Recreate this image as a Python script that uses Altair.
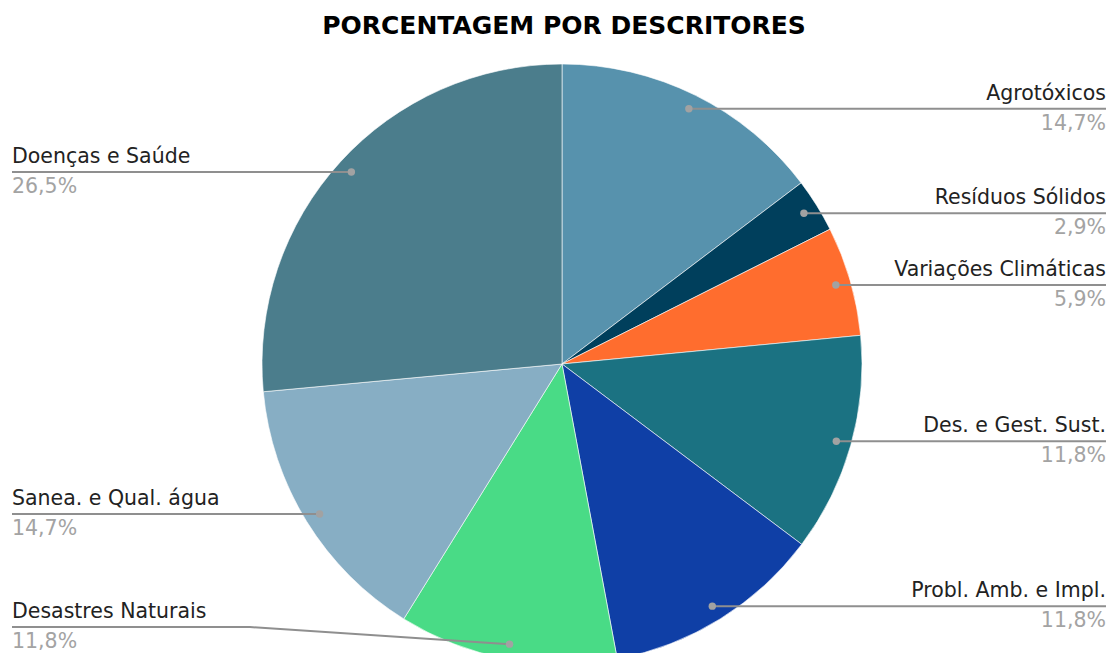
import math
import altair as alt
import pandas as pd

# ---- data ----
categories = [
    "Agrotóxicos",
    "Resíduos Sólidos",
    "Variações Climáticas",
    "Des. e Gest. Sust.",
    "Probl. Amb. e Impl.",
    "Desastres Naturais",
    "Sanea. e Qual. água",
    "Doenças e Saúde",
]
percentages = [14.7, 2.9, 5.9, 11.8, 11.8, 11.8, 14.7, 26.5]
colors = ["#5792ad", "#003f5c", "#ff6d2e", "#1b7282", "#0f3fa6",
          "#49db86", "#87aec4", "#4b7d8c"]
title_text = "PORCENTAGEM POR DESCRITORES"

# ---- layout constants (pixels / units) ----
R = 300            # pie radius in px
CX, CY = 554, 356  # pie centre inside the view
W, H = 1099, 645
DOT_R = 0.95       # dot radius as fraction of pie radius
ELBOW = 1.04       # elbow x of leader line (units of radius)
EDGE_L = -1.8333   # left label edge (units of radius)
EDGE_R = 1.8133    # right label edge (units of radius)
MIN_LABEL_Y = -0.877

total = sum(percentages)
rows, line_rows = [], []
cum = 0.0
for i, (cat, p) in enumerate(zip(categories, percentages)):
    mid = (cum + p / 2) / total * 2 * math.pi
    cum += p
    dx = DOT_R * math.sin(mid)
    dy = DOT_R * math.cos(mid)
    side = "right" if dx > 0 else "left"
    sgn = 1 if dx > 0 else -1
    edge = EDGE_R if dx > 0 else EDGE_L
    ly = max(dy, MIN_LABEL_Y)
    rows.append(dict(cat=cat, val=p, idx=i,
                     pct=f"{p:.1f}".replace(".", ",") + "%",
                     dot_x=dx, dot_y=dy, side=side,
                     label_x=edge, label_y=ly))
    for seq, (x, y) in enumerate([(edge, ly), (sgn * ELBOW, ly), (dx, dy)]):
        line_rows.append(dict(cat=cat, seq=seq, x=x, y=y))

df = pd.DataFrame(rows)
lines_df = pd.DataFrame(line_rows)

xs = alt.Scale(domain=[-1, 1], range=[CX - R, CX + R], nice=False, zero=False)
ys = alt.Scale(domain=[-1, 1], range=[CY + R, CY - R], nice=False, zero=False)

FONT = "DejaVu Sans"
FS = 20.5

pie = alt.Chart(df).mark_arc(radius=R, stroke="white", strokeWidth=0.6).encode(
    theta=alt.Theta("val:Q", stack=True),
    order=alt.Order("idx:Q"),
    color=alt.Color("cat:N", scale=alt.Scale(domain=categories, range=colors), legend=None),
    x=alt.value(CX),
    y=alt.value(CY),
)

leaders = alt.Chart(lines_df).mark_line(color="#8f8f8f", strokeWidth=2).encode(
    x=alt.X("x:Q", scale=xs, axis=None),
    y=alt.Y("y:Q", scale=ys, axis=None),
    detail="cat:N",
    order="seq:Q",
)

dots = alt.Chart(df).mark_circle(size=55, color="#a2a2a2", opacity=1).encode(
    x=alt.X("dot_x:Q", scale=xs, axis=None),
    y=alt.Y("dot_y:Q", scale=ys, axis=None),
)

def label_layer(side, align):
    base = alt.Chart(df).transform_filter(alt.datum.side == side)
    name = base.mark_text(align=align, baseline="alphabetic", dy=-9,
                          font=FONT, fontSize=FS, color="#222222").encode(
        x=alt.X("label_x:Q", scale=xs, axis=None),
        y=alt.Y("label_y:Q", scale=ys, axis=None),
        text="cat:N",
    )
    pct = base.mark_text(align=align, baseline="alphabetic", dy=21,
                         font=FONT, fontSize=FS, color="#a3a3a3").encode(
        x=alt.X("label_x:Q", scale=xs, axis=None),
        y=alt.Y("label_y:Q", scale=ys, axis=None),
        text="pct:N",
    )
    return name + pct

title = alt.Chart(alt.Data(values=[{"t": title_text}])).mark_text(
    font=FONT, fontSize=25, fontWeight="bold", color="#000000",
    align="center", baseline="alphabetic",
).encode(text="t:N", x=alt.value(556), y=alt.value(26))

chart = alt.layer(
    pie, leaders, dots,
    label_layer("left", "left"), label_layer("right", "right"),
    title,
).properties(
    width=W, height=H,
    autosize=alt.AutoSizeParams(type="none"),
    padding=0,
).configure_view(stroke=None)

chart.save("out.html", embed_options={"renderer": "svg", "actions": False})
